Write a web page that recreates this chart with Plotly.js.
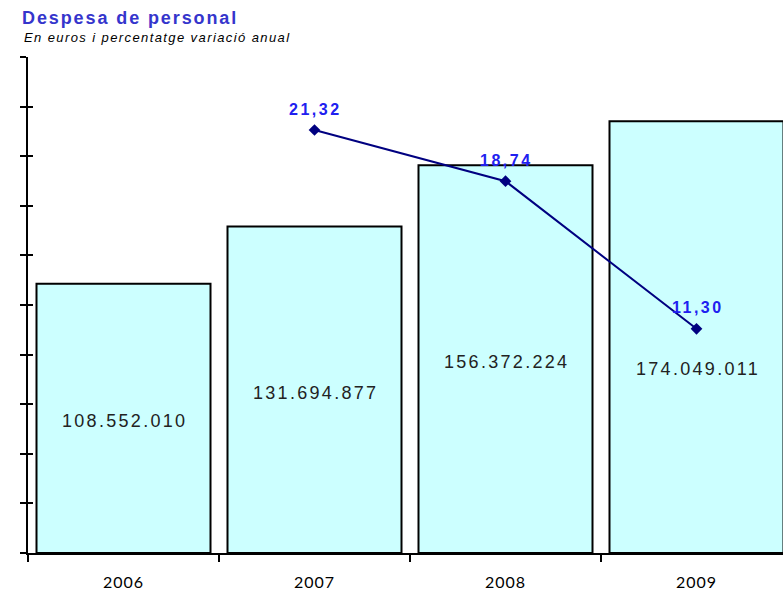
<!DOCTYPE html>
<html><head><meta charset="utf-8">
<script src="https://cdn.plot.ly/plotly-3.0.1.min.js"></script>
<style>
html,body{margin:0;padding:0;background:#fff}
#chart{width:783px;height:592px}
#chart .xtick text{letter-spacing:1px}
</style>
</head><body><div id="chart"></div>
<script>
const years = ['2006', '2007', '2008', '2009'];
const expense = [108552010, 131694877, 156372224, 174049011];
const varYears = ['2007', '2008', '2009'];
const variation = [21.32, 18.74, 11.30];

const fmtInt = v => String(v).replace(/\B(?=(\d{3})+(?!\d))/g, '.');
const fmtDec = v => v.toFixed(2).replace('.', ',');
const spaced = (t, px) => '<span style="letter-spacing:' + px + 'px">' + t + '</span>';

const W = 783, H = 592, L = 28, R = 0, T = 57, B = 39;
const pw = W - L - R, ph = H - T - B;
const Y1MAX = 200000000, Y2MAX = 25;
const catW = 191;

const py1 = v => T + (1 - v / Y1MAX) * ph;
const py2 = v => T + (1 - v / Y2MAX) * ph;

const traces = [
  {
    type: 'bar', x: years, y: expense,
    marker: {color: '#CCFFFF', line: {color: '#000000', width: 2}},
    width: 174 / catW, hoverinfo: 'none'
  },
  {
    type: 'scatter', mode: 'lines+markers', x: varYears, y: variation, yaxis: 'y2',
    line: {color: '#000080', width: 2},
    marker: {symbol: 'diamond', size: 9, color: '#000080'},
    cliponaxis: false, hoverinfo: 'none'
  },
  {type: 'scatter', x: [years[0]], y: [0], yaxis: 'y3', mode: 'none', hoverinfo: 'none', showlegend: false}
];

const annotations = [{
  text: spaced('<i>En euros i percentatge variació anual</i>', 1.4), xref: 'paper', yref: 'paper',
  x: (22 - L) / pw, xanchor: 'left', y: 1 + (T - 38) / ph, yanchor: 'middle',
  showarrow: false, font: {family: 'Liberation Sans, Arial, sans-serif', size: 13, color: '#000000'}
}];

// variation labels above the points
varYears.forEach((yr, i) => {
  annotations.push({
    text: spaced(fmtDec(variation[i]), 2.5), x: years.indexOf(yr), y: variation[i], xref: 'x', yref: 'y2',
    showarrow: false, yshift: 21, xshift: 1, yanchor: 'middle',
    font: {family: 'Liberation Sans, Arial, sans-serif', size: 16, color: '#2020F0', weight: 'bold'}
  });
});

// bar value labels at mid-height, moved down if they would collide with a line point
years.forEach((yr, i) => {
  let yc = py1(expense[i] / 2) + 3;
  const j = varYears.indexOf(yr);
  if (j >= 0) {
    const pp = py2(variation[j]);
    if (Math.abs(yc - pp) < 32) yc = pp + 40;
  }
  annotations.push({
    text: spaced(fmtInt(expense[i]), 2.3), x: i, xref: 'x', yref: 'y',
    y: Y1MAX * (1 - (yc - T) / ph), yanchor: 'middle', showarrow: false, xshift: 1,
    font: {family: 'Liberation Sans, Arial, sans-serif', size: 18, color: '#222222'}
  });
});

const layout = {
  width: W, height: H,
  margin: {l: L, r: R, t: T, b: B, pad: 0},
  paper_bgcolor: '#ffffff', plot_bgcolor: '#ffffff',
  showlegend: false,
  title: {
    text: spaced('Despesa de personal', 1.9), xref: 'container', yref: 'container',
    x: 22 / W, xanchor: 'left', y: 1 - 18 / H, yanchor: 'middle',
    font: {family: 'Liberation Sans, Arial, sans-serif', size: 18, color: '#3535CC', weight: 'bold'}
  },
  annotations: annotations,
  xaxis: {
    type: 'category', range: [-0.5, -0.5 + pw / catW],
    showline: true, linecolor: '#000000', linewidth: 2,
    ticks: 'outside', ticklen: 7, tickwidth: 2, tickcolor: '#000000',
    tickson: 'boundaries', showgrid: false, zeroline: false,
    tickfont: {family: 'Lato, sans-serif', size: 16, color: '#000000'},
    ticklabelstandoff: 14
  },
  yaxis: {
    range: [0, Y1MAX], dtick: Y1MAX / 10, tick0: 0,
    showline: true, linecolor: '#000000', linewidth: 2,
    ticks: 'outside', ticklen: 6, tickwidth: 2, tickcolor: '#000000',
    showticklabels: false, showgrid: false, zeroline: false
  },
  yaxis3: {
    range: [0, Y1MAX], dtick: Y1MAX / 10, tick0: 0, overlaying: 'y',
    ticks: 'inside', ticklen: 5, tickwidth: 2, tickcolor: '#000000',
    showticklabels: false, showgrid: false, zeroline: false, showline: false
  },
  yaxis2: {
    range: [0, Y2MAX], overlaying: 'y', side: 'right', visible: false,
    showgrid: false, zeroline: false
  }
};

Plotly.newPlot('chart', traces, layout, {staticPlot: true, displayModeBar: false});
</script></body></html>
